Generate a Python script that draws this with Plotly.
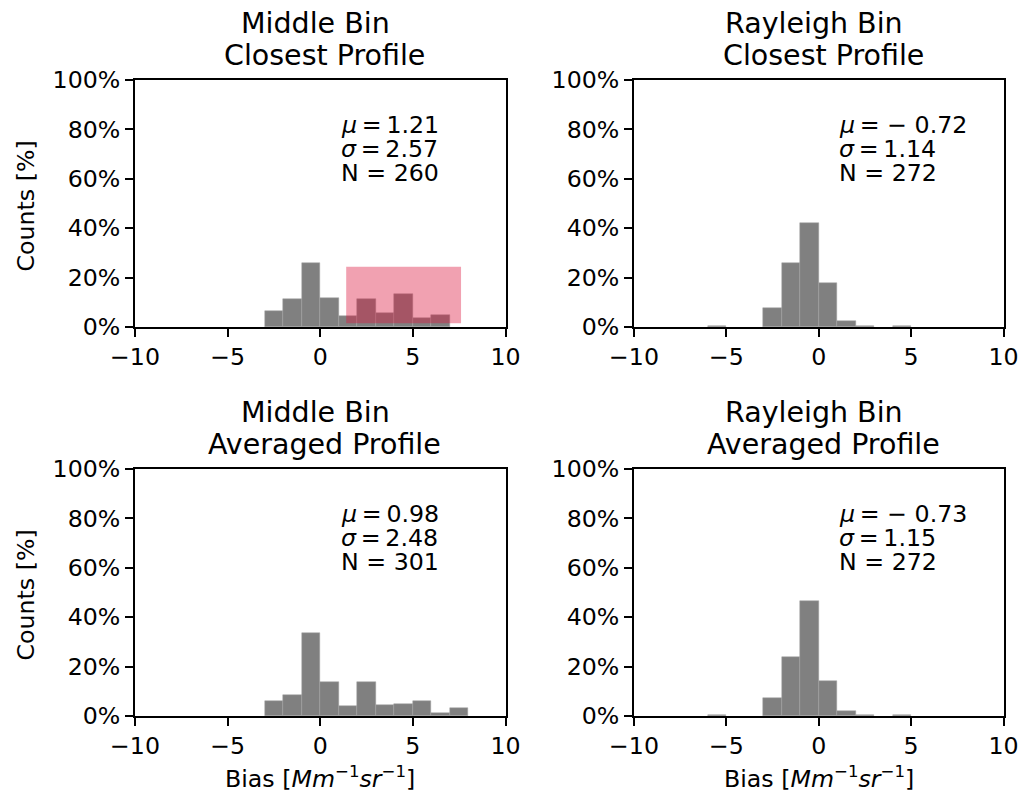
import plotly.graph_objects as go

# Histogram bin edges (unit-width bins) and counts per panel
mid_closest_edges = [-3, -2, -1, 0, 1, 2, 3, 4, 5, 6]
mid_closest_counts = [17, 30, 67, 31, 12, 30, 15, 35, 10, 13]
mid_closest_stats = {"mu": "1.21", "sigma": "2.57", "n": 260}

ray_closest_edges = [-6, -3, -2, -1, 0, 1, 2, 4]
ray_closest_counts = [1, 21, 70, 115, 49, 7, 1, 1]
ray_closest_stats = {"mu": "−0.72", "sigma": "1.14", "n": 272}

mid_avg_edges = [-3, -2, -1, 0, 1, 2, 3, 4, 5, 6, 7]
mid_avg_counts = [18, 26, 101, 42, 12, 41, 14, 15, 18, 4, 10]
mid_avg_stats = {"mu": "0.98", "sigma": "2.48", "n": 301}

ray_avg_edges = [-6, -3, -2, -1, 0, 1, 2, 4]
ray_avg_counts = [1, 20, 65, 127, 39, 6, 1, 1]
ray_avg_stats = {"mu": "−0.73", "sigma": "1.15", "n": 272}

panel_titles = [
    ("Middle Bin", "Closest Profile"),
    ("Rayleigh Bin", "Closest Profile"),
    ("Middle Bin", "Averaged Profile"),
    ("Rayleigh Bin", "Averaged Profile"),
]

# Highlighted region in the first panel (bias units, percent)
highlight_x = (1.4, 7.6)
highlight_y = (1.5, 24.4)

x_ticks = [-10, -5, 0, 5, 10]
x_ticktext = ["−10", "−5", "0", "5", "10"]
y_ticks = [0, 20, 40, 60, 80, 100]
y_ticktext = ["0%", "20%", "40%", "60%", "80%", "100%"]

W, H = 1022, 795
FONT = "DejaVu Sans"
FS = 23.7
TFS = 28.5

panels = [
    (mid_closest_edges, mid_closest_counts, mid_closest_stats),
    (ray_closest_edges, ray_closest_counts, ray_closest_stats),
    (mid_avg_edges, mid_avg_counts, mid_avg_stats),
    (ray_avg_edges, ray_avg_counts, ray_avg_stats),
]

# pixel boxes of the four axes: (left, right, top, bottom)
boxes = [
    (135, 505.5, 80, 327),
    (634, 1003.5, 80, 327),
    (135, 505.5, 469, 716),
    (634, 1003.5, 469, 716),
]

fig = go.Figure()
annotations = []
layout = {}

for i, ((edges, counts, stats), (l, r, t, b)) in enumerate(zip(panels, boxes)):
    k = "" if i == 0 else str(i + 1)
    xa, ya = "x" + k, "y" + k
    n = stats["n"]
    centers = [e + 0.5 for e in edges]
    pct = [c / n * 100 for c in counts]
    fig.add_trace(go.Bar(
        x=centers, y=pct, width=[1] * len(centers),
        marker=dict(color="#808080", line=dict(color="#a0a0a0", width=0.5)),
        xaxis=xa, yaxis=ya, showlegend=False, hoverinfo="skip",
    ))
    axis_common = dict(
        showline=True, mirror=True, linecolor="black", linewidth=1.9,
        ticks="outside", ticklen=8, tickwidth=1.9, tickcolor="black",
        showgrid=False, zeroline=False, automargin=False,
        tickfont=dict(family=FONT, size=FS, color="black"),
    )
    layout["xaxis" + k] = dict(
        domain=[l / W, r / W], range=[-10, 10], anchor=ya,
        tickvals=x_ticks, ticktext=x_ticktext, **axis_common,
    )
    layout["yaxis" + k] = dict(
        domain=[1 - b / H, 1 - t / H], range=[0, 100], anchor=xa,
        tickvals=y_ticks, ticktext=y_ticktext, **axis_common,
    )

    # statistics text block
    xd, yd = xa + " domain", ya + " domain"
    mu = stats["mu"]
    if mu.startswith("−"):
        mu_txt = "<i>μ</i>\u2009= − " + mu[1:]
    else:
        mu_txt = "<i>μ</i>\u2009=\u2009" + mu
    lines = [mu_txt, "<i>σ</i>\u2009=\u2009" + stats["sigma"], "N = %d" % n]
    for j, (txt, yf) in enumerate(zip(lines, [0.817, 0.719, 0.622])):
        annotations.append(dict(
            text=txt, xref=xd, yref=yd, x=0.55, y=yf,
            xanchor="left", yanchor="middle", showarrow=False,
            font=dict(family=FONT, size=FS, color="black"),
        ))

    # two-line title
    cx = (l + r) / 2 / W
    t1, t2 = panel_titles[i]
    annotations.append(dict(
        text=t1, xref="paper", yref="paper", x=cx, y=1 - (t - 56.7) / H,
        xanchor="center", yanchor="middle", xshift=-4.5, showarrow=False,
        font=dict(family=FONT, size=TFS, color="black"),
    ))
    annotations.append(dict(
        text=t2, xref="paper", yref="paper", x=cx, y=1 - (t - 24.3) / H,
        xanchor="center", yanchor="middle", xshift=4.5, showarrow=False,
        font=dict(family=FONT, size=TFS, color="black"),
    ))

    # axis labels on the outer edges
    if i in (0, 2):
        annotations.append(dict(
            text="Counts [%]", xref="paper", yref="paper",
            x=25 / W, y=1 - ((t + b) / 2 + 3) / H, textangle=-90,
            xanchor="center", yanchor="middle", showarrow=False,
            font=dict(family=FONT, size=FS, color="black"),
        ))
    if i in (2, 3):
        annotations.append(dict(
            text="Bias [<i>Mm</i><sup>−1</sup><i>sr</i><sup>−1</sup>]",
            xref="paper", yref="paper", x=cx, y=0,
            xanchor="center", yanchor="bottom", showarrow=False,
            font=dict(family=FONT, size=FS, color="black"),
        ))

fig.add_shape(
    type="rect", xref="x", yref="y",
    x0=highlight_x[0], x1=highlight_x[1], y0=highlight_y[0], y1=highlight_y[1],
    fillcolor="rgba(220,20,60,0.4)", line=dict(width=0), layer="above",
)

fig.update_layout(
    width=W, height=H, margin=dict(l=0, r=0, t=0, b=0),
    paper_bgcolor="white", plot_bgcolor="white",
    bargap=0, annotations=annotations,
    font=dict(family=FONT, size=FS, color="black"),
    **layout,
)

fig.write_html("out.html")
